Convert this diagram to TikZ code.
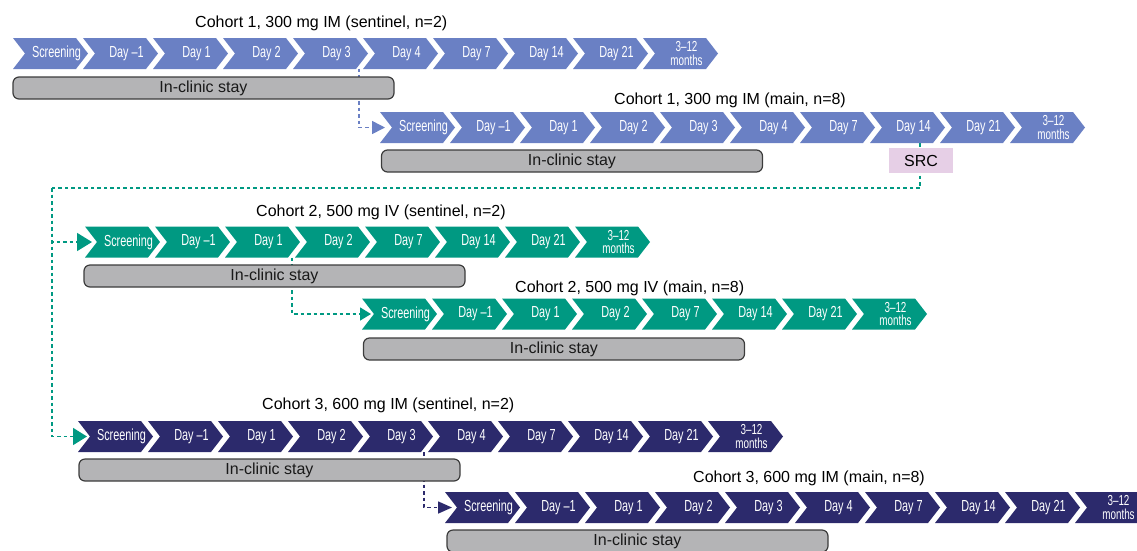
\documentclass[tikz,border=0pt]{standalone}
\usepackage{fontspec}
\setmainfont{Liberation Sans}
\newfontfamily\condfont[FakeStretch=0.68]{Liberation Sans}
\usetikzlibrary{arrows.meta}
\definecolor{cblue}{RGB}{106,128,196}
\definecolor{cteal}{RGB}{0,153,130}
\definecolor{cnavy}{RGB}{44,42,108}
\definecolor{cbar}{RGB}{180,180,182}
\definecolor{cbarline}{RGB}{60,60,60}
\definecolor{csrc}{RGB}{230,207,230}
\newcommand\mofont{\condfont\fontsize{14.5}{13.5}\selectfont}
\newcommand\mlab{{\mofont 3–12}\\{\mofont months}}
\newcommand\chevrow[5]{%
  \foreach \lab [count=\i from 0] in {#5} {%
    \pgfmathsetmacro\chx{#2+70*\i}%
    \fill[#4] (\chx,#3-15.5) -- (\chx+63,#3-15.5) -- (\chx+75,#3) -- (\chx+63,#3+15.5) -- (\chx,#3+15.5) -- (\chx+12,#3) -- cycle;
    \node[chevtext] (#1c\i) at (\chx+43.5,#3) {\lab};
  }}
\tikzset{
  chevtext/.style={text=white, align=center, inner sep=0pt, font=\condfont\fontsize{16}{13.5}\selectfont},
  title/.style={anchor=base west, inner sep=0pt, font=\fontsize{16}{19}\selectfont},
  bar/.style={draw=cbarline, line width=1.2pt, fill=cbar, rounded corners=6pt, minimum height=22pt, minimum width=381pt, inner sep=0pt, font=\fontsize{16}{18}\selectfont, text=black!90},
  srcbox/.style={fill=csrc, minimum width=64pt, minimum height=25pt, inner sep=0pt, font=\fontsize{16}{18}\selectfont},
  dotline/.style={line width=1.6pt, dash pattern=on 3.5pt off 3pt},
}
\begin{document}
\begin{tikzpicture}[x=1pt,y=-1pt]
\useasboundingbox (0,0) rectangle (1137,550);
% connector coordinates
\coordinate (j1) at (359,68.5);
\coordinate (t2) at (385,127.5);
\coordinate (j2) at (920,143);
\coordinate (k1) at (52,188);
\coordinate (t3) at (92,242);
\coordinate (t5) at (87,436.5);
\coordinate (j3) at (292,257.5);
\coordinate (t4) at (371,314);
\coordinate (j4) at (424,452);
\coordinate (t6) at (452,507.5);
% connectors
\draw[dotline, cblue, -{Triangle[length=13pt,width=13pt]}] (j1) |- (t2);
\draw[dotline, cteal] (j2) |- (k1);
\draw[dotline, cteal, -{Triangle[length=15pt,width=18pt]}] (k1) |- (t3);
\draw[dotline, cteal, -{Triangle[length=14pt,width=17pt]}] (k1) |- (t5);
\draw[dotline, cteal, -{Triangle[length=11pt,width=13pt]}] (j3) |- (t4);
\draw[dotline, cnavy, -{Triangle[length=14pt,width=12pt]}] (j4) |- (t6);
% bars
\node[bar] (r1bar) at (203.5,88) {In-clinic stay};
\node[bar] (r2bar) at (572,161) {In-clinic stay};
\node[bar] (r3bar) at (274.5,276) {In-clinic stay};
\node[bar] (r4bar) at (554,349) {In-clinic stay};
\node[bar] (r5bar) at (269.5,470) {In-clinic stay};
\node[bar] (r6bar) at (637.5,541) {In-clinic stay};
\node[srcbox] (src) at (921,160.5) {SRC};
% titles
\node[title] (r1t) at (195,27.5) {Cohort 1, 300 mg IM (sentinel, n=2)};
\node[title] (r2t) at (614,104) {Cohort 1, 300 mg IM (main, n=8)};
\node[title] (r3t) at (256,216) {Cohort 2, 500 mg IV (sentinel, n=2)};
\node[title] (r4t) at (515,292) {Cohort 2, 500 mg IV (main, n=8)};
\node[title] (r5t) at (262,409) {Cohort 3, 600 mg IM (sentinel, n=2)};
\node[title] (r6t) at (693,482) {Cohort 3, 600 mg IM (main, n=8)};
% chevron rows
\chevrow{r1}{13}{53.5}{cblue}{Screening,Day –1,Day 1,Day 2,Day 3,Day 4,Day 7,Day 14,Day 21,{\mlab}}
\chevrow{r2}{380}{127.5}{cblue}{Screening,Day –1,Day 1,Day 2,Day 3,Day 4,Day 7,Day 14,Day 21,{\mlab}}
\chevrow{r3}{85}{242}{cteal}{Screening,Day –1,Day 1,Day 2,Day 7,Day 14,Day 21,{\mlab}}
\chevrow{r4}{362}{314}{cteal}{Screening,Day –1,Day 1,Day 2,Day 7,Day 14,Day 21,{\mlab}}
\chevrow{r5}{78}{436.5}{cnavy}{Screening,Day –1,Day 1,Day 2,Day 3,Day 4,Day 7,Day 14,Day 21,{\mlab}}
\chevrow{r6}{445}{507.5}{cnavy}{Screening,Day –1,Day 1,Day 2,Day 3,Day 4,Day 7,Day 14,Day 21,{\mlab}}
\end{tikzpicture}
\end{document}
